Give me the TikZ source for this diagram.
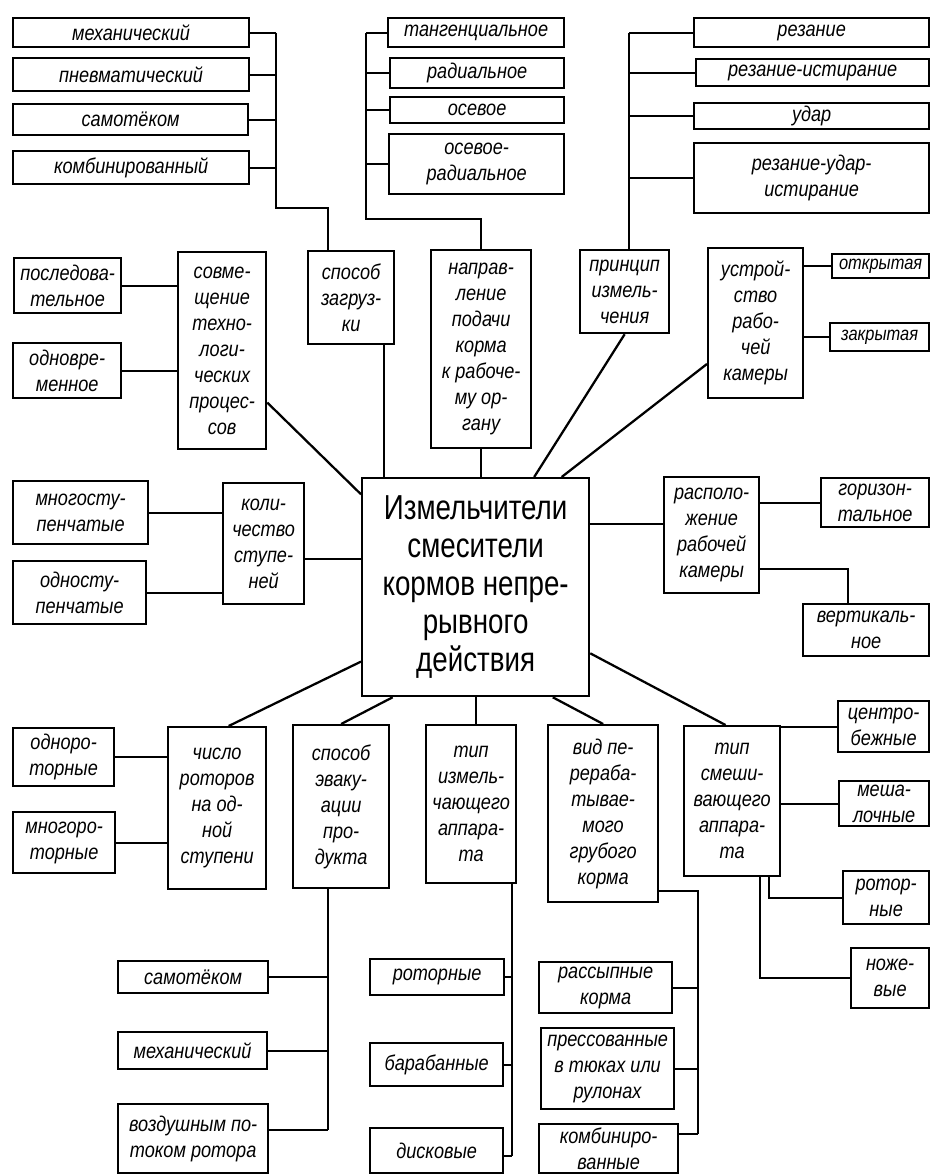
\documentclass[tikz,border=0pt]{standalone}
\usepackage{fontspec}
\setmainfont{Liberation Sans}[FakeStretch=0.85]
\newfontfamily\centfont{Liberation Sans}[FakeStretch=0.8]
\tikzset{wh/.style 2 args={minimum width=#1*0.75pt, minimum height=#2*0.75pt}}
\begin{document}
\begin{tikzpicture}[x=0.75pt, y=-0.75pt]
    \tikzstyle{box} = [rectangle, draw, line width=1.7pt, anchor=north west, align=center, inner sep=1pt, font=\itshape\fontsize{16}{19.5}\selectfont]
    \tikzstyle{small} = [font=\itshape\fontsize{14.5}{17}\selectfont]
    \tikzstyle{mainbox} = [rectangle, draw, line width=1.7pt, anchor=north west, align=center, inner sep=1pt, font=\centfont\fontsize{26}{28.5}\selectfont]
    \tikzstyle{wire} = [line width=1.7pt]
    \useasboundingbox (0,0) rectangle (931,1174);

    % centre
    \node (cent) [mainbox, wh={227}{218}] at (361,477) {Измельчители\\смесители\\кормов непре-\\рывного\\действия};

    % loading
    \node (mex1) [box, wh={236}{29}] at (12,17) {механический};
    \node (pnev) [box, wh={236}{33}] at (12,57) {пневматический};
    \node (samo1) [box, wh={235}{31}] at (12,103) {самотёком};
    \node (komb1) [box, wh={236}{33}] at (12,150) {комбинированный};
    \node (zagr) [box, wh={86}{93}] at (307,250) {способ\\загруз-\\ки};

    % feed direction
    \node (tang) [box, wh={176}{29}] at (387,17) {тангенциальное};
    \node (rad) [box, wh={174}{30}] at (389,57) {радиальное};
    \node (os) [box, wh={174}{26}] at (389,96) {осевое};
    \node (osrad) [box, wh={175}{60}] at (388,133) {осевое-\\радиальное};
    \node (napr) [box, wh={100}{198}] at (430,249) {направ-\\ление\\подачи\\корма\\к рабоче-\\му ор-\\гану};

    % grinding principle
    \node (rez) [box, wh={235}{29}] at (693,17) {резание};
    \node (rezist) [box, wh={233}{27}] at (695,58) {резание-истирание};
    \node (udar) [box, wh={235}{26}] at (693,102) {удар};
    \node (rezudar) [box, wh={235}{70}] at (693,142) {резание-удар-\\истирание};
    \node (princ) [box, wh={89}{83}] at (579,249) {принцип\\измель-\\чения};

    % chamber design
    \node (ustr) [box, wh={95}{150}] at (707,247) {устрой-\\ство\\рабо-\\чей\\камеры};
    \node (otkr) [box, small, wh={97}{24}] at (831,253) {открытая};
    \node (zakr) [box, small, wh={99}{28}] at (829,322) {закрытая};

    % combined processes
    \node (posl) [box, wh={107}{55}] at (13,257) {последова-\\тельное};
    \node (odnovr) [box, wh={108}{55}] at (12,342) {одновре-\\менное};
    \node (sovm) [box, wh={88}{197}] at (177,251) {совме-\\щение\\техно-\\логи-\\ческих\\процес-\\сов};

    % stages
    \node (mnogost) [box, wh={135}{63}] at (12,480) {многосту-\\пенчатые};
    \node (odnost) [box, wh={133}{63}] at (12,560) {односту-\\пенчатые};
    \node (kolst) [box, wh={81}{121}] at (222,482) {коли-\\чество\\ступе-\\ней};

    % chamber position
    \node (rasp) [box, wh={95}{116}] at (663,476) {располо-\\жение\\рабочей\\камеры};
    \node (goriz) [box, wh={108}{49}] at (820,477) {горизон-\\тальное};
    \node (vert) [box, wh={126}{52}] at (802,603) {вертикаль-\\ное};

    % rotors
    \node (odnorot) [box, wh={101}{58}] at (12,727) {одноро-\\торные};
    \node (mnogorot) [box, wh={102}{61}] at (12,811) {многоро-\\торные};
    \node (chislo) [box, wh={98}{162}] at (167,726) {число\\роторов\\на од-\\ной\\ступени};

    % evacuation
    \node (evak) [box, wh={96}{163}] at (292,724) {способ\\эваку-\\ации\\про-\\дукта};
    \node (samo2) [box, wh={150}{32}] at (117,960) {самотёком};
    \node (mex2) [box, wh={149}{37}] at (117,1031) {механический};
    \node (vozd) [box, wh={150}{69}] at (117,1103) {воздушным по-\\током ротора};

    % grinding apparatus
    \node (izm) [box, wh={90}{158}] at (425,724) {тип\\измель-\\чающего\\аппара-\\та};
    \node (rotor2) [box, wh={134}{36}] at (369,958) {роторные};
    \node (baraban) [box, wh={133}{43}] at (369,1042) {барабанные};
    \node (disk) [box, wh={133}{45}] at (369,1127) {дисковые};

    % feed kind
    \node (vid) [box, wh={110}{177}] at (547,724) {вид пе-\\рераба-\\тывае-\\мого\\грубого\\корма};
    \node (rassyp) [box, wh={133}{51}] at (538,961) {рассыпные\\корма};
    \node (press) [box, wh={133}{81}] at (540,1027) {прессованные\\в тюках или\\рулонах};
    \node (kombi2) [box, wh={139}{49}] at (538,1123) {комбиниро-\\ванные};

    % mixing apparatus
    \node (smes) [box, wh={96}{150}] at (683,725) {тип\\смеши-\\вающего\\аппара-\\та};
    \node (centrob) [box, wh={91}{51}] at (837,700) {центро-\\бежные};
    \node (meshal) [box, wh={90}{45}] at (838,780) {меша-\\лочные};
    \node (rotor3) [box, wh={86}{53}] at (842,870) {ротор-\\ные};
    \node (nozh) [box, wh={78}{60}] at (850,947) {ноже-\\вые};

    % bus points
    \coordinate (zb) at (276,208);
    \coordinate (zt) at (328,0);
    \coordinate (nb) at (366,219);
    \coordinate (pb) at (629,0);
    \coordinate (eb) at (328,1130);
    \coordinate (ib) at (512,1156);
    \coordinate (vb) at (698,1134);

    % loading
    \draw [wire] (mex1.east) -- (mex1.east -| zb);
    \draw [wire] (pnev.east) -- (pnev.east -| zb);
    \draw [wire] (samo1.east) -- (samo1.east -| zb);
    \draw [wire] (komb1.east) -- (komb1.east -| zb);
    \draw [wire] (mex1.east -| zb) -- (zb) -| (zt |- zagr.north);
    \draw [wire] ([xshift=24.75pt]zagr.south) -- ([xshift=24.75pt]zagr.south |- cent.north);

    % feed direction
    \draw [wire] (tang.west) -- (tang.west -| nb);
    \draw [wire] (rad.west) -- (rad.west -| nb);
    \draw [wire] (os.west) -- (os.west -| nb);
    \draw [wire] (osrad.west) -- (osrad.west -| nb);
    \draw [wire] (tang.west -| nb) -- (nb) -| (napr.north);
    \draw [wire] (napr.south) -- (napr.south |- cent.north);

    % grinding principle
    \draw [wire] (rez.west) -- (rez.west -| pb);
    \draw [wire] (rezist.west) -- (rezist.west -| pb);
    \draw [wire] (udar.west) -- (udar.west -| pb);
    \draw [wire] (rezudar.west) -- (rezudar.west -| pb);
    \draw [wire] (rez.west -| pb) -- (pb |- princ.north);
    \draw [wire] (princ.south) -- (cent.62);

    % chamber design
    \draw [wire] (ustr.220) -- (cent.52);
    \draw [wire] (otkr.west) -- (otkr.west -| ustr.east);
    \draw [wire] (zakr.west) -- (zakr.west -| ustr.east);

    % combined processes
    \draw [wire] (posl.east) -- (posl.east -| sovm.west);
    \draw [wire] (odnovr.east) -- (odnovr.east -| sovm.west);
    \draw [wire] (sovm.311) -- (cent.141);

    % stages
    \draw [wire] (mnogost.east) -- (mnogost.east -| kolst.west);
    \draw [wire] (odnost.east) -- (odnost.east -| kolst.west);
    \draw [wire] ([yshift=-11.6pt]kolst.east) -- ([yshift=-11.6pt]kolst.east -| cent.west);

    % chamber position
    \draw [wire] ([yshift=8.25pt]rasp.west) -- ([yshift=8.25pt]rasp.west -| cent.east);
    \draw [wire] (goriz.west) -- (goriz.west -| rasp.east);
    \draw [wire] ([yshift=-25.5pt]rasp.east) -| ([xshift=-13.5pt]vert.north);

    % rotors
    \draw [wire] (chislo.82) -- (cent.213);
    \draw [wire] (odnorot.east) -- (odnorot.east -| chislo.west);
    \draw [wire] (mnogorot.east) -- (mnogorot.east -| chislo.west);

    % evacuation
    \draw [wire] (evak.north) -- (cent.233);
    \draw [wire] (evak.south -| eb) -- (eb);
    \draw [wire] (samo2.east) -- (samo2.east -| eb);
    \draw [wire] (mex2.east) -- (mex2.east -| eb);
    \draw [wire] (eb -| vozd.east) -- (eb);

    % grinding apparatus
    \draw [wire] (cent.south) -- (cent.south |- izm.north);
    \draw [wire] (izm.south -| ib) -- (ib);
    \draw [wire] (rotor2.east) -- (rotor2.east -| ib);
    \draw [wire] (baraban.east) -- (baraban.east -| ib);
    \draw [wire] (ib -| disk.east) -- (ib);

    % feed kind
    \draw [wire] (vid.north) -- (cent.305);
    \draw [wire] ([yshift=9pt]vid.south east) -| (vb);
    \draw [wire] (rassyp.east) -- (rassyp.east -| vb);
    \draw [wire] (press.east) -- (press.east -| vb);
    \draw [wire] (vb -| kombi2.east) -- (vb);

    % mixing apparatus
    \draw [wire] (smes.95) -- (cent.-30);
    \draw [wire] (centrob.west) -- (centrob.west -| smes.east);
    \draw [wire] (meshal.west) -- (meshal.west -| smes.east);
    \draw [wire] (rotor3.west) -| ([xshift=27.75pt]smes.south);
    \draw [wire] (nozh.west) -| ([xshift=21pt]smes.south);

\end{tikzpicture}
\end{document}
